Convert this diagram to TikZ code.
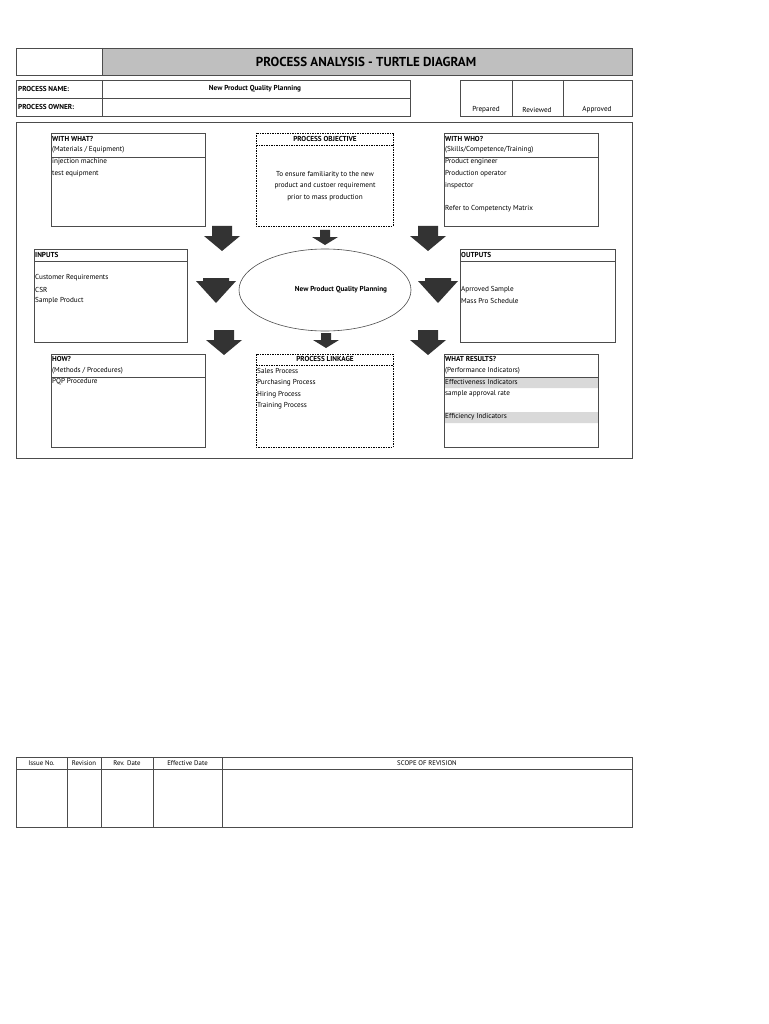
\documentclass[tikz,border=0pt]{standalone}
\usepackage{fontspec}
\setmainfont{PT Sans}
\begin{document}
\begin{tikzpicture}[x=1pt,y=-1pt,
  ln/.style={draw=black!70,line width=0.6pt},
  dsh/.style={draw=black,dashed,line width=0.5pt,dash pattern=on 1.5pt off 1pt},
  t/.style={inner sep=0pt,anchor=west,font=\fontsize{7.2}{8}\selectfont},
  tb/.style={t,font=\fontsize{7.2}{8}\selectfont\bfseries},
  arr/.style={fill=black!80,draw=none}]
\useasboundingbox (0,0) rectangle (768,1024);
\fill[white] (0,0) rectangle (768,1024);
% title
\fill[black!25] (102,48) rectangle (632,75);
\draw[ln] (16,48) rectangle (632,75) (102,48)--(102,75);
\node[inner sep=0pt,font=\fontsize{13}{14}\selectfont\bfseries] (title) at (366,62) {PROCESS ANALYSIS - TURTLE DIAGRAM};
% name/owner
\draw[ln] (16,80) rectangle (410,116) (16,98)--(410,98) (102,80)--(102,116);
\node[tb] (pn) at (18,89) {PROCESS NAME:};
\node[tb] (po) at (18,107) {PROCESS OWNER:};
\node[inner sep=0pt,font=\fontsize{7.2}{8}\selectfont\bfseries] (pnv) at (255,89) {New Product Quality Planning};
% signatures
\draw[ln] (460,80) rectangle (632,116) (512,80)--(512,116) (563,80)--(563,116);
\node[inner sep=0pt,font=\fontsize{7.2}{8}\selectfont] (pr) at (486,110) {Prepared};
\node[inner sep=0pt,font=\fontsize{7.2}{8}\selectfont] (rv) at (537,110) {Reviewed};
\node[inner sep=0pt,font=\fontsize{7.2}{8}\selectfont] (ap) at (597,110) {Approved};
% main frame
\draw[ln] (16,122) rectangle (632,458);
% with what
\draw[ln] (51,133) rectangle (205,226) (51,157)--(205,157);
\node[tb] (ww) at (52,139) {WITH WHAT?};
\node[t] (ww2) at (52,150) {(Materials / Equipment)};
\node[t] (ww3) at (52,162) {injection machine};
\node[t] (ww4) at (52,174) {test equipment};
% objective
\draw[dsh] (256,133) rectangle (393,226) (256,145)--(393,145);
\node[inner sep=0pt,font=\fontsize{7.2}{8}\selectfont\bfseries] (ob) at (325,139) {PROCESS OBJECTIVE};
\node[inner sep=0pt,align=center,font=\fontsize{7.2}{11.5}\selectfont] (ob2) at (325,186) {To ensure familiarity to the new\\product and custoer requirement\\prior to mass production};
% with who
\draw[ln] (444,133) rectangle (598,226) (444,157)--(598,157);
\node[tb] (wh) at (445,139) {WITH WHO?};
\node[t] (wh2) at (445,150) {(Skills/Competence/Training)};
\node[t] (wh3) at (445,162) {Product engineer};
\node[t] (wh4) at (445,174) {Production operator};
\node[t] (wh5) at (445,186) {inspector};
\node[t] (wh6) at (445,209) {Refer to Competencty Matrix};
% inputs
\draw[ln] (34,249) rectangle (187,342) (34,261)--(187,261);
\node[tb] (in) at (35,255) {INPUTS};
\node[t] (in2) at (35,278) {Customer Requirements};
\node[t] (in3) at (35,290) {CSR};
\node[t] (in4) at (35,301) {Sample Product};
% ellipse
\draw[ln] (325,290) ellipse (86 and 41);
\node[inner sep=0pt,font=\fontsize{7.2}{8}\selectfont\bfseries] (np) at (341,290) {New Product Quality Planning};
% outputs
\draw[ln] (460,249) rectangle (615,342) (460,261)--(615,261);
\node[tb] (ou) at (461,255) {OUTPUTS};
\node[t] (ou2) at (461,290) {Aprroved Sample};
\node[t] (ou3) at (461,301) {Mass Pro Schedule};
% how
\draw[ln] (51,354) rectangle (205,447) (51,377)--(205,377);
\node[tb] (hw) at (52,359) {HOW?};
\node[t] (hw2) at (52,371) {(Methods / Procedures)};
\node[t] (hw3) at (52,382) {PQP Procedure};
% linkage
\draw[dsh] (256,354) rectangle (393,447) (256,365)--(393,365);
\node[inner sep=0pt,font=\fontsize{7.2}{8}\selectfont\bfseries] (lk) at (325,359) {PROCESS LINKAGE};
\node[t] (lk2) at (257,371) {Sales Process};
\node[t] (lk3) at (257,383) {Purchasing Process};
\node[t] (lk4) at (257,395) {Hiring Process};
\node[t] (lk5) at (257,406) {Training Process};
% what results
\fill[black!15] (444,377) rectangle (598,388) (444,412) rectangle (598,423);
\draw[ln] (444,354) rectangle (598,447) (444,377)--(598,377);
\node[tb] (wr) at (445,359) {WHAT RESULTS?};
\node[t] (wr2) at (445,371) {(Performance Indicators)};
\node[t] (wr3) at (445,382) {Effectiveness Indicators};
\node[t] (wr4) at (445,394) {sample approval rate};
\node[t] (wr5) at (445,417) {Efficiency Indicators};
% arrows: big (cx, top)
\foreach \cx/\ty in {222/226,428/226,224/330,428/330}
  \fill[arr] (\cx-10,\ty) -- (\cx+10,\ty) -- (\cx+10,\ty+10) -- (\cx+18,\ty+10) -- (\cx,\ty+25) -- (\cx-18,\ty+10) -- (\cx-10,\ty+10) -- cycle;
\foreach \cx/\ty in {216/278,438/278}
  \fill[arr] (\cx-13,\ty) -- (\cx+13,\ty) -- (\cx+13,\ty+3) -- (\cx+20,\ty+3) -- (\cx,\ty+25) -- (\cx-20,\ty+3) -- (\cx-13,\ty+3) -- cycle;
\foreach \cx/\ty in {325/230,326/333}
  \fill[arr] (\cx-5,\ty) -- (\cx+5,\ty) -- (\cx+5,\ty+7) -- (\cx+13,\ty+7) -- (\cx,\ty+15) -- (\cx-13,\ty+7) -- (\cx-5,\ty+7) -- cycle;
% revision table
\draw[ln] (16,757) rectangle (632,827) (16,769)--(632,769);
\foreach \xx in {67,101,153,222} \draw[ln] (\xx,757)--(\xx,827);
\node[inner sep=0pt,font=\fontsize{6.8}{8}\selectfont] (r1) at (41.5,763) {Issue No.};
\node[inner sep=0pt,font=\fontsize{6.8}{8}\selectfont] (r2) at (84,763) {Revision};
\node[inner sep=0pt,font=\fontsize{6.8}{8}\selectfont] (r3) at (127,763) {Rev. Date};
\node[inner sep=0pt,font=\fontsize{6.8}{8}\selectfont] (r4) at (187.5,763) {Effective Date};
\node[inner sep=0pt,font=\fontsize{6.8}{8}\selectfont] (r5) at (427,763) {SCOPE OF REVISION};
\end{tikzpicture}
\end{document}
